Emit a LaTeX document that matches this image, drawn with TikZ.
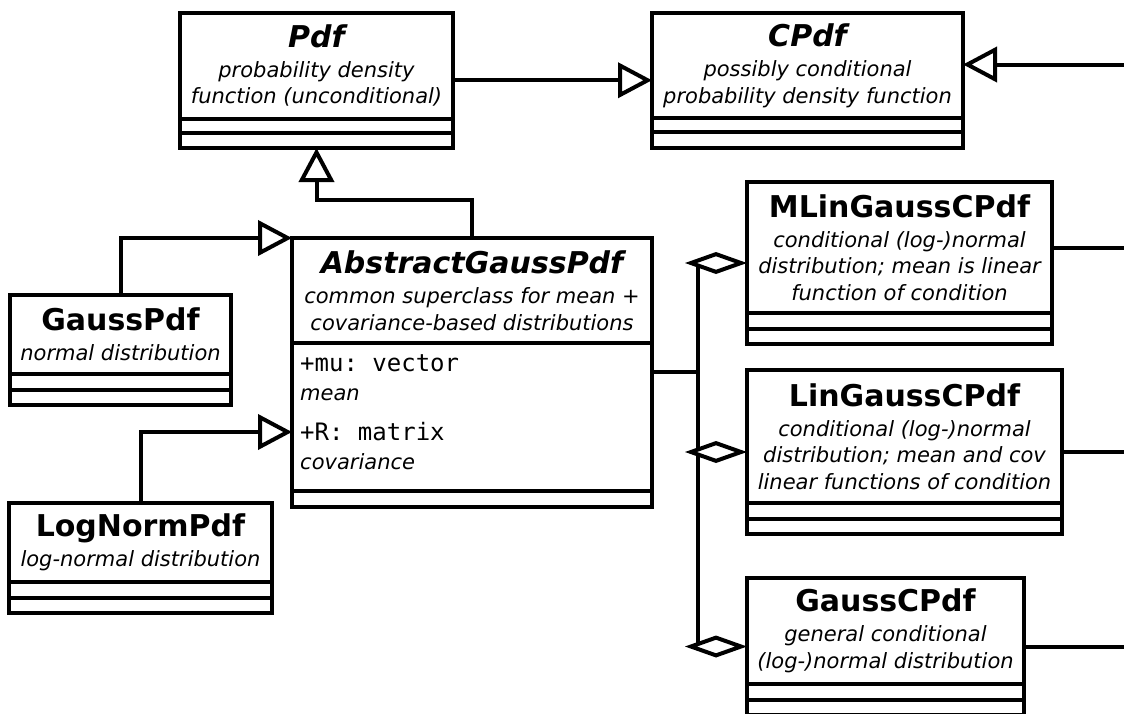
\documentclass[tikz,border=0pt]{standalone}
\usepackage{fontspec}
\setmainfont{DejaVu Sans}
\setmonofont{DejaVu Sans Mono}
\usetikzlibrary{positioning,arrows.meta,calc}
\newcommand{\desc}{\fontsize{21}{26.7}\selectfont\rmfamily\itshape}
\newcommand{\cname}[1]{{\fontsize{30}{30}\selectfont\bfseries\upshape #1}}
\newcommand{\aname}[1]{{\fontsize{30}{30}\selectfont\bfseries\itshape #1}}

\begin{document}
\begin{tikzpicture}[x=1pt, y=-1pt,
  line/.style={line width=4pt},
  head/.style={draw, line, outer sep=0pt, inner sep=2pt, align=center, font=\desc},
  comp/.style={draw, line, outer sep=0pt, inner sep=0pt, minimum height=15.5pt},
  attr/.style={inner xsep=8pt, inner ysep=11pt, align=left, font=\fontsize{24}{29}\selectfont\ttfamily},
  gen/.style={line, -{Triangle[open, length=34pt, width=35pt]}},
  agg/.style={line, -{Kite[fill=white, length=62pt, width=22pt, inset=31pt]}}]
  \useasboundingbox (0,0) rectangle (1124,713);
  \clip (0,0) rectangle (1124,713);

  % base classes
  \node[head, minimum width=273pt, minimum height=106pt] (pdf) at (316.5,65.5) {\aname{Pdf}\\[3.3pt]probability density\\function (unconditional)};
  \node[comp, minimum width=273pt, below=0pt of pdf, minimum height=14pt] (pdfA) {};
  \node[comp, minimum width=273pt, below=0pt of pdfA] (pdfB) {};

  \node[head, minimum width=311pt, minimum height=105pt] (cpdf) at (807.5,65.5) {\aname{CPdf}\\[3.3pt]possibly conditional\\probability density function};
  \node[comp, minimum width=311pt, below=0pt of cpdf, minimum height=14pt] (cpdfA) {};
  \node[comp, minimum width=311pt, below=0pt of cpdfA] (cpdfB) {};

  % gaussian family
  \node[head, minimum width=360pt, minimum height=105pt] (abs) at (472,290.5) {\aname{AbstractGaussPdf}\\[3.3pt]common superclass for mean +\\covariance-based distributions};
  \node[comp, minimum width=360pt, minimum height=148pt, below=0pt of abs] (absA) {};
  \node[attr, anchor=north west] (absT) at (absA.north west) {+mu: vector\\{\desc mean}\\[11pt]+R: matrix\\{\desc covariance}};
  \node[comp, minimum width=360pt, below=0pt of absA] (absB) {};

  \node[head, minimum width=221pt, minimum height=79pt] (gpdf) at (120.5,334.5) {\cname{GaussPdf}\\[3.3pt]normal distribution};
  \node[comp, minimum width=221pt, below=0pt of gpdf] (gpdfA) {};
  \node[comp, minimum width=221pt, below=0pt of gpdfA] (gpdfB) {};

  \node[head, minimum width=263pt, minimum height=79pt] (lnpdf) at (140.5,542.5) {\cname{LogNormPdf}\\[3.3pt]log-normal distribution};
  \node[comp, minimum width=263pt, below=0pt of lnpdf] (lnpdfA) {};
  \node[comp, minimum width=263pt, below=0pt of lnpdfA] (lnpdfB) {};

  % conditional classes
  \node[head, minimum width=305pt, minimum height=131pt] (mlin) at (899.5,247.5) {\cname{MLinGaussCPdf}\\[3.3pt]conditional (log-)normal\\distribution; mean is linear\\function of condition};
  \node[comp, minimum width=305pt, below=0pt of mlin] (mlinA) {};
  \node[comp, minimum width=305pt, below=0pt of mlinA] (mlinB) {};

  \node[head, minimum width=315pt, minimum height=133pt] (lin) at (904.5,436.5) {\cname{LinGaussCPdf}\\[3.3pt]conditional (log-)normal\\distribution; mean and cov\\linear functions of condition};
  \node[comp, minimum width=315pt, below=0pt of lin] (linA) {};
  \node[comp, minimum width=315pt, below=0pt of linA] (linB) {};

  \node[head, minimum width=277pt, minimum height=106pt] (gcp) at (885.5,631) {\cname{GaussCPdf}\\[3.3pt]general conditional\\(log-)normal distribution};
  \node[comp, minimum width=277pt, below=0pt of gcp] (gcpA) {};
  \node[comp, minimum width=277pt, below=0pt of gcpA] (gcpB) {};

  % generalisations
  \coordinate (pdfE) at ($(pdf.north east)!.5!(pdfB.south east)$);
  \coordinate (cpdfIn) at (1124,64.5);
  \draw[gen] (pdfE) -- (pdfE -| cpdf.west);
  \draw[gen] (cpdfIn) -- (cpdf.east |- cpdfIn);
  \draw[gen] (abs.north) -- ++(0,-38) -| (pdfB.south);
  \draw[gen] (gpdf.north) |- (abs.north west);
  \draw[gen] (lnpdf.north) |- ([yshift=-15pt]absA.west);

  % aggregations
  \coordinate (absE) at ($(abs.north east)!.5!(absB.south east)$);
  \coordinate (mlinW) at ($(mlin.north west)!.5!(mlinB.south west)$);
  \coordinate (linW) at ($(lin.north west)!.5!(linB.south west)$);
  \coordinate (linE) at ($(lin.north east)!.5!(linB.south east)$);
  \coordinate (gcpW) at ($(gcp.north west)!.5!(gcpB.south west)$);
  \coordinate (gcpE) at ($(gcp.north east)!.5!(gcpB.south east)$);
  \coordinate (bus) at ([xshift=-49pt]mlinW);
  \draw[line] (bus) -- (bus |- gcpW);
  \draw[line] (absE) -- (absE -| bus);
  \foreach \c in {mlinW, linW, gcpW}
    \draw[agg] (bus |- \c) -- (\c);

  \draw[line] (mlin.east) -- (mlin.east -| cpdfIn);
  \draw[line] (linE) -- (linE -| cpdfIn);
  \draw[line] (gcpE) -- (gcpE -| cpdfIn);
\end{tikzpicture}
\end{document}
